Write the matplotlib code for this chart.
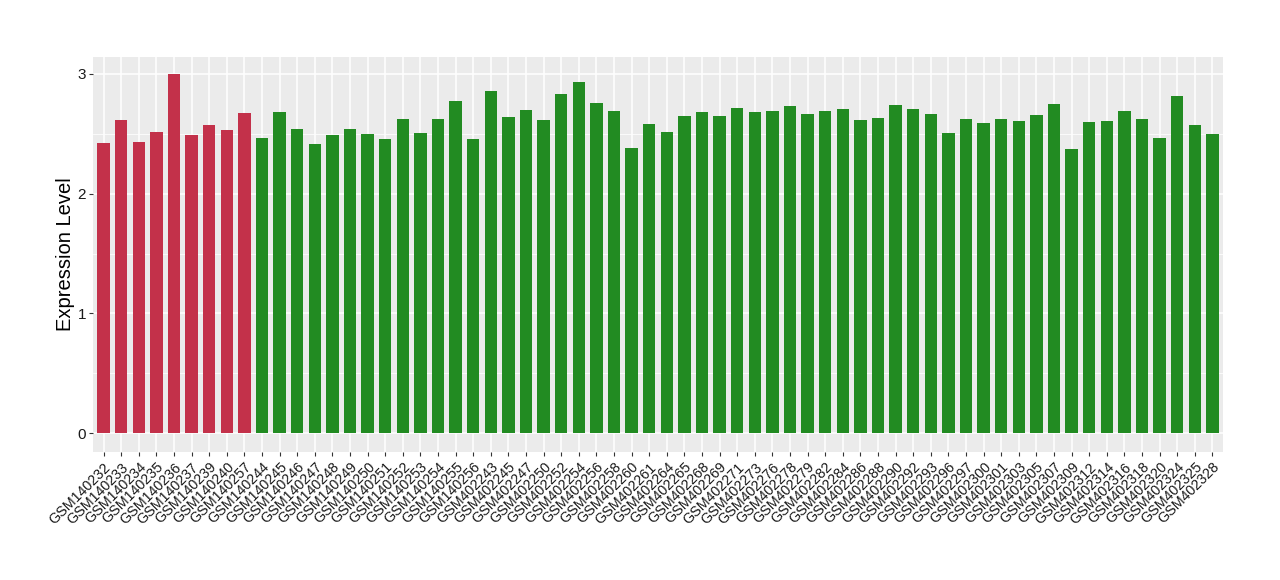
import matplotlib
matplotlib.use("Agg")
import matplotlib.pyplot as plt
from matplotlib.ticker import MultipleLocator

plt.rcParams['font.family'] = ['Liberation Sans', 'DejaVu Sans']

samples = [
    "GSM140232", "GSM140233", "GSM140234", "GSM140235", "GSM140236", "GSM140237",
    "GSM140239", "GSM140240", "GSM140257",
    "GSM140244", "GSM140245", "GSM140246", "GSM140247", "GSM140248", "GSM140249",
    "GSM140250", "GSM140251", "GSM140252", "GSM140253", "GSM140254", "GSM140255",
    "GSM140256",
    "GSM402243", "GSM402245", "GSM402247", "GSM402250", "GSM402252", "GSM402254",
    "GSM402256", "GSM402258", "GSM402260", "GSM402261", "GSM402264", "GSM402265",
    "GSM402268", "GSM402269", "GSM402271", "GSM402273", "GSM402276", "GSM402278",
    "GSM402279", "GSM402282", "GSM402284", "GSM402286", "GSM402288", "GSM402290",
    "GSM402292", "GSM402293", "GSM402296", "GSM402297", "GSM402300", "GSM402301",
    "GSM402303", "GSM402305", "GSM402307", "GSM402309", "GSM402312", "GSM402314",
    "GSM402316", "GSM402318", "GSM402320", "GSM402324", "GSM402325", "GSM402328",
]

values = [
    2.425, 2.617, 2.433, 2.517, 2.994, 2.492, 2.575, 2.533, 2.676,
    2.467, 2.684, 2.542, 2.417, 2.492, 2.542, 2.500, 2.458, 2.625, 2.508, 2.625, 2.776,
    2.458,
    2.860, 2.642, 2.700, 2.617, 2.835, 2.927, 2.759, 2.692, 2.383, 2.583, 2.517, 2.650,
    2.684, 2.650, 2.717, 2.684, 2.692, 2.734, 2.667, 2.692, 2.709, 2.617, 2.634, 2.743,
    2.709, 2.667, 2.508, 2.625, 2.592, 2.625, 2.609, 2.659, 2.751, 2.375, 2.600, 2.609,
    2.692, 2.625, 2.467, 2.810, 2.575, 2.500,
]

groups = ["case"] * 9 + ["control"] * 55
group_colors = {"case": "#C3314A", "control": "#228B22"}

fig = plt.figure(figsize=(12.8, 5.8), dpi=100)
ax = fig.add_axes([93 / 1280, 1 - 451.7 / 580, (1223 - 93) / 1280, (451.7 - 56.7) / 580])
ax.set_facecolor("#EBEBEB")

x = list(range(len(samples)))
ax.bar(x, values, width=0.7, color=[group_colors[g] for g in groups], zorder=3)

ax.set_xlim(-0.6, len(samples) - 0.4)
ax.set_ylim(-0.153, 3.142)
ax.yaxis.set_major_locator(MultipleLocator(1))
ax.yaxis.set_minor_locator(MultipleLocator(0.5))
ax.grid(which="major", color="white", linewidth=1.1, zorder=0)
ax.grid(which="minor", axis="y", color="white", linewidth=0.55, zorder=0)
ax.set_axisbelow(True)

ax.set_xticks(x)
ax.set_xticklabels(samples, rotation=45, ha="right", va="top", rotation_mode="anchor",
                   fontsize=10.3, color="#1A1A1A")
ax.tick_params(axis="both", which="major", length=3, color="#333333", width=0.8)
ax.tick_params(axis="y", which="minor", length=0)
ax.tick_params(axis="y", labelsize=11, labelcolor="#1A1A1A", pad=2)
ax.tick_params(axis="x", pad=3)
for s in ax.spines.values():
    s.set_visible(False)

ax.set_ylabel("Expression Level", fontsize=14.5, color="black", labelpad=1.5)

fig.savefig("out.png", dpi=100)
